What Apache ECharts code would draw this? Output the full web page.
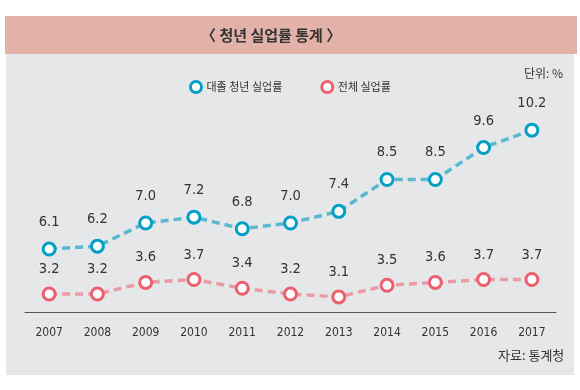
<!DOCTYPE html>
<html><head><meta charset="utf-8">
<script src="https://cdn.jsdelivr.net/npm/echarts@6/dist/echarts.min.js"></script>
<style>html,body{margin:0;padding:0;background:#fff}#c{width:580px;height:390px}</style>
</head><body><div id="c"></div>
<script>
var years = ['2007','2008','2009','2010','2011','2012','2013','2014','2015','2016','2017'];
var youthRate = [6.1, 6.2, 7.0, 7.2, 6.8, 7.0, 7.4, 8.5, 8.5, 9.6, 10.2];
var totalRate = [3.2, 3.2, 3.6, 3.7, 3.4, 3.2, 3.1, 3.5, 3.6, 3.7, 3.7];
var seriesNames = ['대졸 청년 실업률', '전체 실업률'];
var titleText = '〈 청년 실업률 통계 〉';
var unitText = '단위: %';
var sourceText = '자료: 통계청';

var NUM_FONT = '"Liberation Sans Narrow", "DejaVu Sans Condensed", "Noto Sans CJK KR", sans-serif';
var KR_FONT = '"Noto Sans CJK KR", sans-serif';
var chart = echarts.init(document.getElementById('c'));
chart.setOption({
  animation: false,
  backgroundColor: '#ffffff',
  graphic: [
    {type:'rect', z:-10, shape:{x:6,y:54,width:568,height:321}, style:{fill:'#e6e7e9'}},
    {type:'rect', z:-9, shape:{x:5,y:16,width:572,height:38}, style:{fill:'#e2b2a8'}},
    {type:'text', left:201, top:28, style:{text:titleText, font:'bold 15px '+KR_FONT, fill:'#333'}},
    {type:'text', left:524, top:67, style:{text:unitText, font:'12px '+KR_FONT, fill:'#333'}},
    {type:'text', left:498, top:349, style:{text:sourceText, font:'13px '+KR_FONT, fill:'#333'}}
  ],
  legend: {
    left: 184, top: 75, itemGap: 38, itemWidth: 11, itemHeight: 11,
    textStyle: {fontFamily: KR_FONT, fontSize: 11, color: '#333'},
    data: [
      {name: seriesNames[0], icon:'circle', itemStyle:{color:'#fff', borderColor:'#009fc6', borderWidth:3}},
      {name: seriesNames[1], icon:'circle', itemStyle:{color:'#fff', borderColor:'#ec5f6f', borderWidth:3}}
    ]
  },
  grid: {left: 25, right: 24, top: 100, bottom: 78},
  xAxis: {
    type: 'category', data: years, boundaryGap: true,
    axisLine: {lineStyle:{color:'#555', width:1}},
    axisTick: {alignWithLabel:true, length:6, lineStyle:{color:'#777'}},
    axisLabel: {fontFamily: NUM_FONT, fontSize: 12, color:'#333', margin: 15}
  },
  yAxis: [
    {type:'value', min: 3.93, max: 11.24, show:false},
    {type:'value', min: 2.58, max: 9.89, show:false}
  ],
  series: [
    {
      name: seriesNames[0], type:'line', yAxisIndex:0, data: youthRate,
      symbol:'circle', symbolSize: 12,
      itemStyle:{color:'#fff', borderColor:'#009fc6', borderWidth:3},
      lineStyle:{color:'#5ab9cf', width:3.5, type:[8,5]},
      label:{show:true, position:'top', distance:12, fontFamily:NUM_FONT, fontSize:14.5, color:'#333',
             formatter: function(p){return p.value.toFixed(1);}}
    },
    {
      name: seriesNames[1], type:'line', yAxisIndex:1, data: totalRate,
      symbol:'circle', symbolSize: 12,
      itemStyle:{color:'#fff', borderColor:'#ec5f6f', borderWidth:3},
      lineStyle:{color:'#e99ca6', width:3.5, type:[8,5]},
      label:{show:true, position:'top', distance:10, fontFamily:NUM_FONT, fontSize:14.5, color:'#333',
             formatter: function(p){return p.value.toFixed(1);}}
    }
  ]
});
</script></body></html>
